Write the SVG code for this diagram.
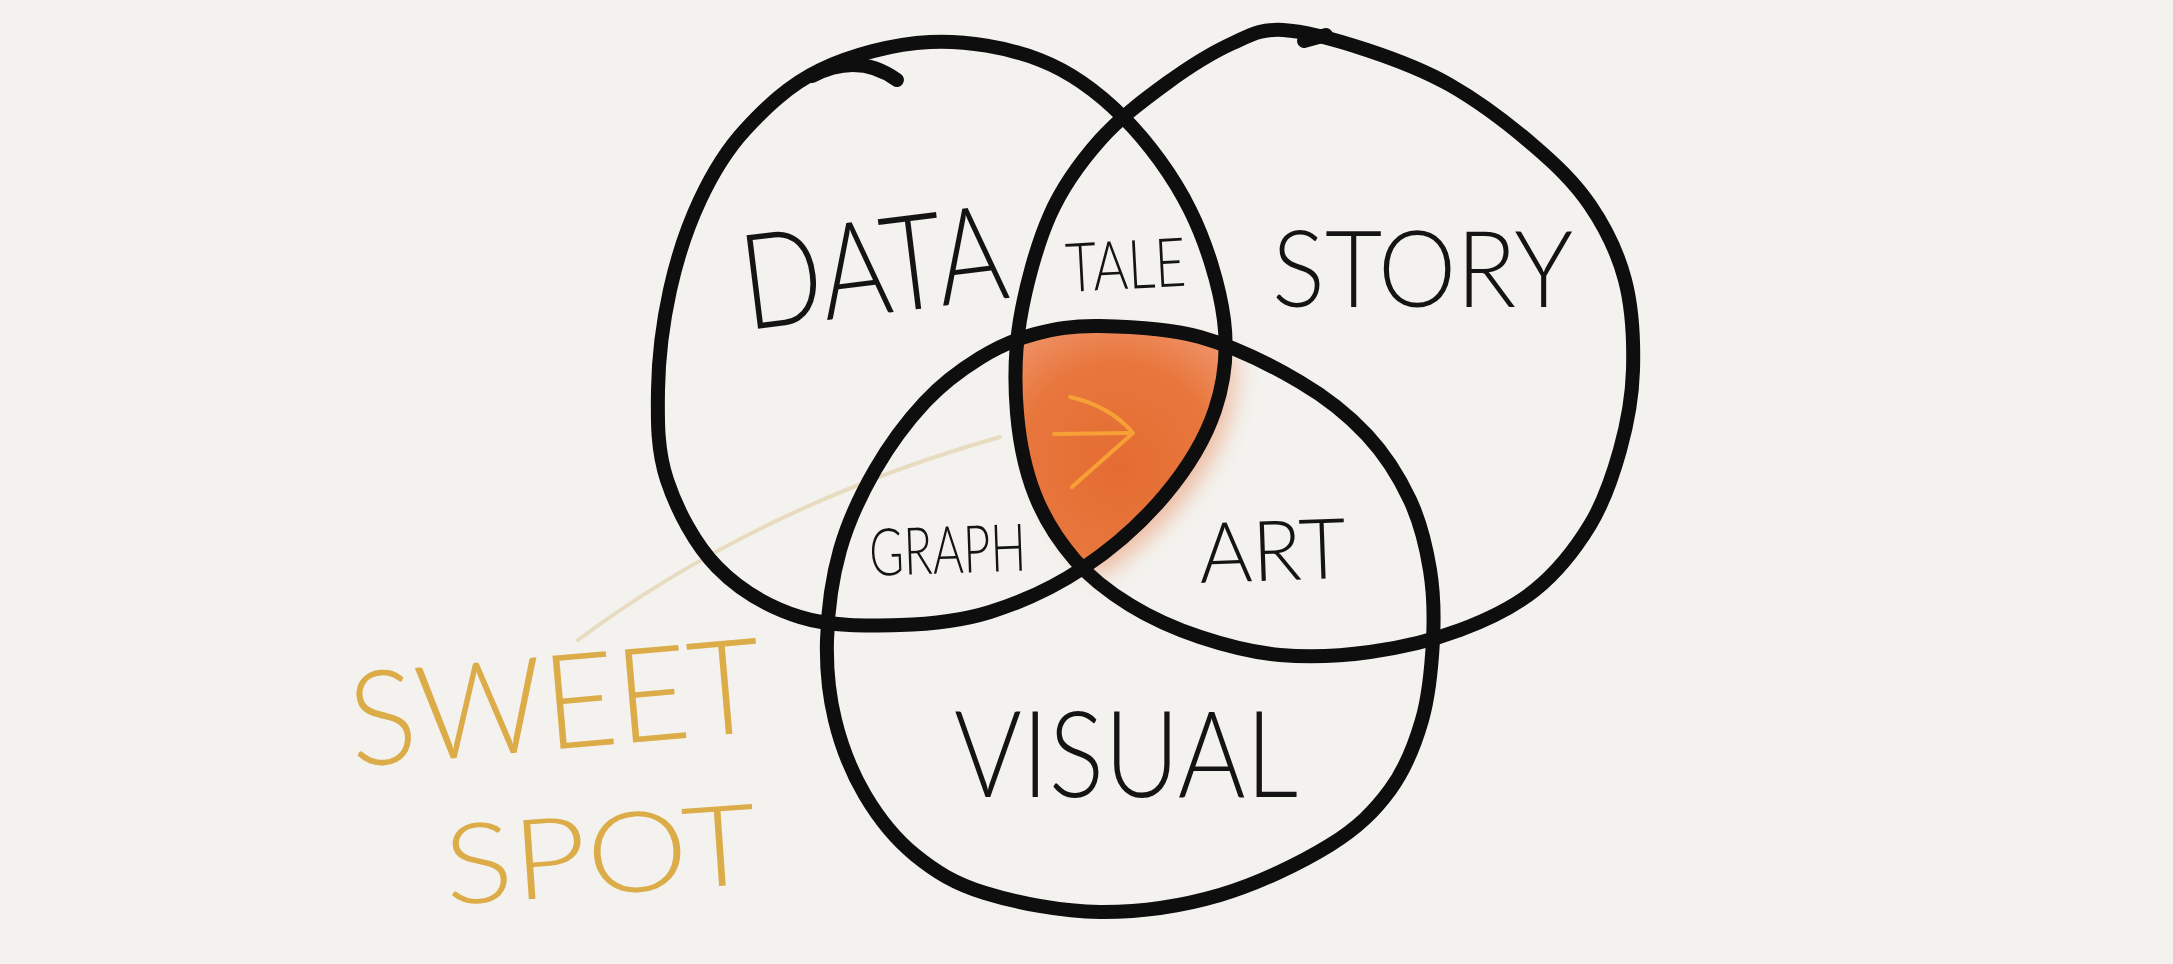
<svg xmlns="http://www.w3.org/2000/svg" width="2173" height="964" viewBox="0 0 2173 964">
  <style>
    .ring { fill: none; stroke: #0e0e0e; stroke-width: 14; stroke-linecap: round; stroke-linejoin: round; }
    .lbl { font-family: Lato, "Open Sans", "Liberation Sans", sans-serif; font-weight: 300; fill: #141414; }
    .sweet { font-family: Lato, "Open Sans", "Liberation Sans", sans-serif; font-weight: 300; fill: #dcac48; }
    .conn { fill: none; stroke: #e7dcbf; stroke-width: 4; stroke-linecap: round; }
    .arrow { fill: none; stroke: #f7a536; stroke-width: 4; stroke-linecap: round; stroke-linejoin: round; opacity: 0.9; }
  </style>
  <defs>
    <path id="pData" d="M820,70 C850.8,55.3 893.3,43.7 930,42 S1007.8,47.5 1040,60 S1098,92 1123,117 S1173.2,176.2 1190,210 S1219.8,286.7 1224,320 S1224.8,380.8 1215,410 S1187,468.7 1165,495 S1112.2,548.5 1083,568 S1020.5,602.5 990,612 S931.7,624.2 900,625 S830.5,626.7 800,617 S739.2,589.8 717,567 S676.8,509.5 667,480 S657.5,421.7 658,390 S663,321.7 670,290 S687.5,226.7 700,200 S725,151.7 745,130 S789.2,84.7 820,70 Z"/>
    <path id="pStory" d="M1283,30 C1305.3,31.2 1339.2,40.8 1367,50 S1422.3,69.2 1450,85 S1509.7,125 1533,145 S1574.7,182.5 1590,205 S1617.8,252.5 1625,280 S1633.8,341.7 1633,370 S1627.2,424.2 1620,450 S1604.2,501.7 1590,525 S1556.7,572.5 1535,590 S1487.5,619.7 1460,630 S1400,647.8 1370,652 S1308.3,657.5 1280,655 S1225,645.3 1200,637 S1150.8,617.8 1130,605 S1090.8,578.3 1075,560 S1044.7,519.5 1035,495 S1019.5,442.2 1017,413 S1014.5,353 1020,320 S1036.7,245 1050,215 S1080.5,162 1100,140 S1144.8,99.2 1167,83 S1213.7,51.8 1233,43 S1260.7,28.8 1283,30 Z"/>
    <path id="pVisual" d="M1100,326 C1127.5,326.5 1166.7,327.7 1200,337 S1272.2,365.7 1300,382 S1348.7,415.3 1367,435 S1399.5,477.5 1410,500 S1426.2,546.7 1430,570 S1434.3,615 1433,640 S1429.2,695 1422,720 S1405.3,769.2 1390,790 S1358.3,827.5 1330,845 S1258.3,883.8 1220,895 S1139.2,912.3 1100,912 S1015.8,902.5 985,893 S935,871.3 915,855 S878.3,817.5 865,795 S841.3,745.8 835,720 S826.2,668.3 827,640 S832,578.3 840,550 S860.8,494.7 875,470 S907.5,420.7 925,402 S961.7,369.3 980,358 S1015,339.3 1035,334 S1072.5,325.5 1100,326 Z"/>
    <clipPath id="cData"><use href="#pData"/></clipPath>
    <clipPath id="cStory"><use href="#pStory"/></clipPath>
    <radialGradient id="gOrange" gradientUnits="userSpaceOnUse" cx="1115" cy="455" r="165" fx="1120" fy="470">
      <stop offset="0" stop-color="#e46c32"/>
      <stop offset="0.6" stop-color="#e8773d"/>
      <stop offset="0.88" stop-color="#ee9064"/>
      <stop offset="1" stop-color="#f3b092"/>
    </radialGradient>
    <filter id="fBlur" x="-50%" y="-50%" width="200%" height="200%">
      <feGaussianBlur stdDeviation="10"/>
    </filter>
    <g id="spotShape" clip-path="url(#cData)">
      <g clip-path="url(#cStory)">
        <use href="#pVisual" fill="url(#gOrange)"/>
      </g>
    </g>
  </defs>

  <rect x="0" y="0" width="2173" height="964" fill="#f3f2ee"/>

  <g id="sweet-spot">
    <g filter="url(#fBlur)" opacity="0.4">
      <use href="#spotShape" transform="translate(14 12)"/>
    </g>
    <use href="#spotShape"/>
    <path class="arrow" d="M1070,397 Q1110,406 1133,433 L1072,487"/>
    <path class="arrow" d="M1054,434 L1128,433"/>
  </g>

  <g id="connectors">
    <path class="conn" d="M1000,437 Q760,505 578,640"/>
  </g>

  <g id="data">
    <use href="#pData" class="ring"/>
    <path class="ring" d="M812,76 Q858,52 897,80"/>
    <text class="lbl" x="747" y="330" font-size="133" textLength="266" lengthAdjust="spacingAndGlyphs" transform="rotate(-7 747 330)">DATA</text>
  </g>

  <g id="story">
    <use href="#pStory" class="ring"/>
    <path class="ring" d="M1304,41 L1326,35" stroke-width="17"/>
    <text class="lbl" x="1272" y="307" font-size="106" textLength="301" lengthAdjust="spacingAndGlyphs">STORY</text>
  </g>

  <g id="visual">
    <use href="#pVisual" class="ring"/>
    <text class="lbl" x="954" y="797" font-size="120" textLength="344" lengthAdjust="spacingAndGlyphs">VISUAL</text>
  </g>

  <g id="tale">
    <text class="lbl" x="1067" y="292" font-size="68" textLength="120" lengthAdjust="spacingAndGlyphs" transform="rotate(-3 1067 292)">TALE</text>
  </g>

  <g id="graph">
    <text class="lbl" x="870" y="576" font-size="66" textLength="157" lengthAdjust="spacingAndGlyphs" transform="rotate(-2 870 576)">GRAPH</text>
  </g>

  <g id="art">
    <text class="lbl" x="1200" y="583" font-size="84" textLength="147" lengthAdjust="spacingAndGlyphs" transform="rotate(-2 1200 583)">ART</text>
  </g>

  <g id="sweet-spot-label">
    <text class="sweet" x="353" y="767" font-size="132" textLength="414" lengthAdjust="spacingAndGlyphs" transform="rotate(-5 353 767)">SWEET</text>
    <text class="sweet" x="447" y="905" font-size="112" textLength="313" lengthAdjust="spacingAndGlyphs" transform="rotate(-4 447 905)">SPOT</text>
  </g>
</svg>
